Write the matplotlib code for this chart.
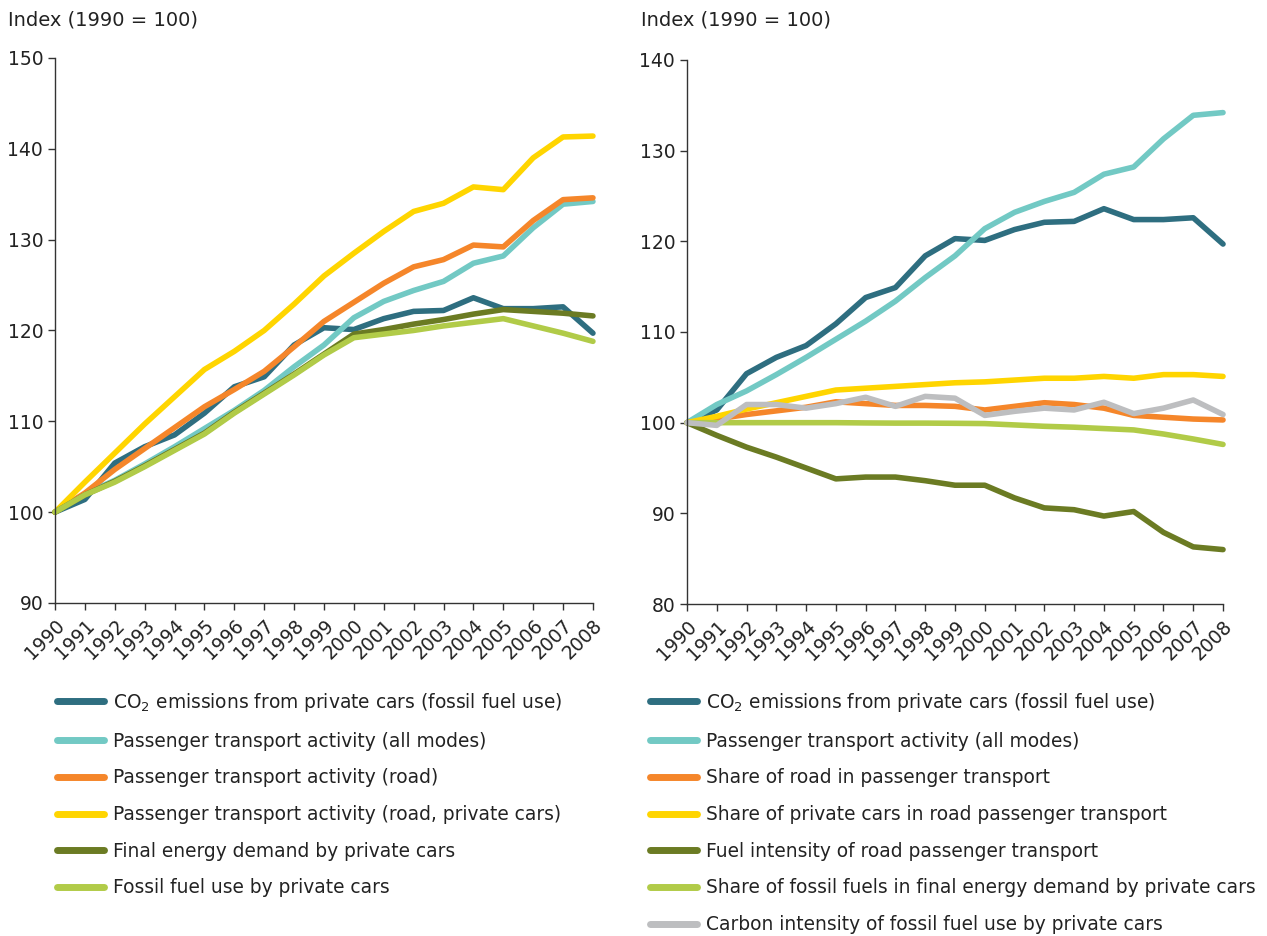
import matplotlib
matplotlib.use("Agg")
import matplotlib.pyplot as plt

years = list(range(1990, 2009))

# left panel
co2 = [100, 101.4, 105.4, 107.2, 108.5, 110.9, 113.8, 114.9, 118.4, 120.3, 120.1,
       121.3, 122.1, 122.2, 123.6, 122.4, 122.4, 122.6, 119.7]
pass_all = [100, 102.0, 103.5, 105.3, 107.2, 109.2, 111.2, 113.4, 116.0, 118.4, 121.4,
            123.2, 124.4, 125.4, 127.4, 128.2, 131.3, 133.9, 134.2]
pass_road = [100, 102.1, 104.7, 107.0, 109.3, 111.6, 113.5, 115.5, 118.2, 121.0, 123.1,
             125.2, 127.0, 127.8, 129.4, 129.2, 132.1, 134.4, 134.6]
pass_cars = [100, 103.3, 106.5, 109.7, 112.7, 115.7, 117.7, 120.0, 122.9, 126.0, 128.5,
             130.9, 133.1, 134.0, 135.8, 135.5, 139.0, 141.3, 141.4]
energy = [100, 101.9, 103.4, 105.1, 106.9, 108.7, 111.0, 113.1, 115.2, 117.4, 119.6,
          120.1, 120.7, 121.2, 121.8, 122.3, 122.1, 121.9, 121.6]
fossil = [100, 101.9, 103.3, 105.0, 106.8, 108.6, 110.9, 113.0, 115.1, 117.3, 119.2,
          119.6, 120.0, 120.5, 120.9, 121.3, 120.5, 119.7, 118.8]

# right panel
share_road = [100, 100.4, 100.9, 101.3, 101.7, 102.3, 102.1, 101.9, 101.9, 101.8, 101.4,
              101.8, 102.2, 102.0, 101.6, 100.8, 100.6, 100.4, 100.3]
share_cars = [100, 100.7, 101.5, 102.2, 102.9, 103.6, 103.8, 104.0, 104.2, 104.4, 104.5,
              104.7, 104.9, 104.9, 105.1, 104.9, 105.3, 105.3, 105.1]
fuel_int = [100, 98.6, 97.3, 96.2, 95.0, 93.8, 94.0, 94.0, 93.6, 93.1, 93.1,
            91.7, 90.6, 90.4, 89.7, 90.2, 87.9, 86.3, 86.0]
share_fossil = [100, 100, 100, 100, 100, 100, 99.97, 99.95, 99.95, 99.93, 99.9,
                99.75, 99.6, 99.5, 99.35, 99.2, 98.75, 98.2, 97.6]
carbon_int = [100, 99.7, 102.0, 102.0, 101.6, 102.1, 102.8, 101.8, 102.9, 102.7, 100.8,
              101.25, 101.6, 101.4, 102.25, 101.0, 101.6, 102.5, 100.9]

c_co2 = '#2E6E80'
c_all = '#72C9C4'
c_road = '#F5862A'
c_cars = '#FFD500'
c_olive = '#6B7B23'
c_lgreen = '#B1CB48'
c_grey = '#BDBEC0'

left_series = [
    (co2, c_co2, 'CO$_2$ emissions from private cars (fossil fuel use)'),
    (pass_all, c_all, 'Passenger transport activity (all modes)'),
    (pass_road, c_road, 'Passenger transport activity (road)'),
    (pass_cars, c_cars, 'Passenger transport activity (road, private cars)'),
    (energy, c_olive, 'Final energy demand by private cars'),
    (fossil, c_lgreen, 'Fossil fuel use by private cars'),
]
right_series = [
    (co2, c_co2, 'CO$_2$ emissions from private cars (fossil fuel use)'),
    (pass_all, c_all, 'Passenger transport activity (all modes)'),
    (share_road, c_road, 'Share of road in passenger transport'),
    (share_cars, c_cars, 'Share of private cars in road passenger transport'),
    (fuel_int, c_olive, 'Fuel intensity of road passenger transport'),
    (share_fossil, c_lgreen, 'Share of fossil fuels in final energy demand by private cars'),
    (carbon_int, c_grey, 'Carbon intensity of fossil fuel use by private cars'),
]

plt.rcParams['font.family'] = 'DejaVu Sans'
plt.rcParams['font.size'] = 13
txt = '#222222'

fig = plt.figure(figsize=(12.67, 9.36), dpi=100, facecolor='white')
ax1 = fig.add_axes([0.0434, 0.3558, 0.4246, 0.5823])
ax2 = fig.add_axes([0.5422, 0.3547, 0.4231, 0.5812])


def style(ax, ylim, yticks):
    ax.set_xlim(1990, 2008)
    ax.set_ylim(*ylim)
    ax.set_yticks(yticks)
    ax.set_xticks(years)
    ax.set_xticklabels([str(y) for y in years], rotation=45, ha='right',
                       va='top', rotation_mode='anchor')
    for s in ['top', 'right']:
        ax.spines[s].set_visible(False)
    for s in ['left', 'bottom']:
        ax.spines[s].set_color('#333333')
        ax.spines[s].set_linewidth(1.0)
    ax.tick_params(colors='#333333', labelcolor=txt, length=5, width=1.0,
                   labelsize=13.5)
    ax.tick_params(axis='x', pad=4)


for ax, series, ylim, yticks in [
        (ax1, left_series, (90, 150), range(90, 151, 10)),
        (ax2, right_series, (80, 140), range(80, 141, 10))]:
    style(ax, ylim, yticks)
    for vals, col, lab in series:
        ax.plot(years, vals, color=col, lw=4, label=lab,
                solid_capstyle='round', solid_joinstyle='round', clip_on=False)

fig.text(8 / 1267, 1 - 20 / 936, 'Index (1990 = 100)', ha='left', va='center',
         fontsize=14, color=txt)
fig.text(641 / 1267, 1 - 20 / 936, 'Index (1990 = 100)', ha='left', va='center',
         fontsize=14, color=txt)

for ax, x0 in [(ax1, 57), (ax2, 650)]:
    leg = ax.legend(loc='upper left', bbox_to_anchor=(x0 / 1267, 1 - 691 / 936),
                    bbox_transform=fig.transFigure, frameon=False,
                    handlelength=2.5, handletextpad=0.5, labelspacing=0.95,
                    borderpad=0, borderaxespad=0, fontsize=13.4)
    for line in leg.get_lines():
        line.set_linewidth(5)
    for t in leg.get_texts():
        t.set_color(txt)

plt.savefig('out.png', dpi=100, facecolor='white')
